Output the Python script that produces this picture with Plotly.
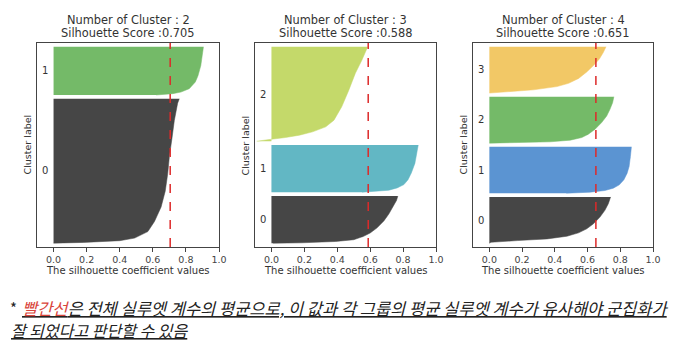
import plotly.graph_objects as go

# ---------------- data ----------------
n_clusters_list = [2, 3, 4]
silhouette_scores = [0.705, 0.588, 0.651]

sizes_k2 = [375, 125]
sizes_k3 = [125, 125, 250]
sizes_k4 = [125, 125, 125, 125]

colors_k2 = ["#464646", "#74ba68"]
colors_k3 = ["#464646", "#62b7c4", "#c4d96a"]
colors_k4 = ["#464646", "#5b94d2", "#74ba68", "#f2c866"]

# sorted silhouette profile of each cluster: rank position (0 = lowest, 1 = highest) and value
k2_c0_rank = [0.0, 0.005, 0.017, 0.035, 0.08, 0.15, 0.25, 0.36, 0.48, 0.60, 0.72, 0.85, 0.97, 1.0]
k2_c0_value = [0.0, 0.18, 0.40, 0.49, 0.57, 0.61, 0.65, 0.675, 0.69, 0.70, 0.715, 0.73, 0.75, 0.76]
k2_c1_rank = [0.0, 0.006, 0.027, 0.06, 0.13, 0.27, 0.40, 0.61, 0.81, 1.0]
k2_c1_value = [0.62, 0.65, 0.72, 0.77, 0.82, 0.857, 0.873, 0.89, 0.898, 0.906]

k3_c0_rank = [0.0, 0.009, 0.037, 0.074, 0.146, 0.217, 0.326, 0.472, 0.617, 0.761, 0.907, 1.0]
k3_c0_value = [0.01, 0.185, 0.39, 0.50, 0.56, 0.60, 0.642, 0.683, 0.713, 0.738, 0.76, 0.768]
k3_c1_rank = [0.0, 0.008, 0.042, 0.092, 0.161, 0.266, 0.407, 0.616, 0.826, 1.0]
k3_c1_value = [0.55, 0.59, 0.713, 0.764, 0.805, 0.83, 0.85, 0.872, 0.884, 0.892]
k3_c2_rank = [0.0, 0.011, 0.021, 0.039, 0.064, 0.099, 0.152, 0.223, 0.365, 0.54, 0.72, 0.86, 1.0]
k3_c2_value = [-0.09, -0.05, 0.0, 0.085, 0.17, 0.25, 0.33, 0.38, 0.427, 0.47, 0.51, 0.55, 0.585]

k4_c0_rank = [0.0, 0.022, 0.058, 0.094, 0.152, 0.225, 0.312, 0.42, 0.565, 0.71, 0.855, 1.0]
k4_c0_value = [0.0, 0.01, 0.17, 0.352, 0.474, 0.545, 0.595, 0.636, 0.676, 0.706, 0.727, 0.741]
k4_c1_rank = [0.0, 0.022, 0.058, 0.108, 0.18, 0.288, 0.432, 0.576, 0.791, 1.0]
k4_c1_value = [0.47, 0.615, 0.706, 0.757, 0.794, 0.822, 0.842, 0.854, 0.862, 0.868]
k4_c2_rank = [0.0, 0.007, 0.029, 0.064, 0.121, 0.193, 0.30, 0.443, 0.586, 0.729, 0.871, 1.0]
k4_c2_value = [0.0, 0.17, 0.372, 0.494, 0.565, 0.605, 0.646, 0.686, 0.717, 0.737, 0.753, 0.761]
k4_c3_rank = [0.0, 0.021, 0.07, 0.14, 0.21, 0.315, 0.455, 0.594, 0.734, 0.874, 1.0]
k4_c3_value = [0.0, 0.07, 0.27, 0.413, 0.484, 0.545, 0.595, 0.636, 0.672, 0.696, 0.713]

x_tick_values = [0.0, 0.2, 0.4, 0.6, 0.8, 1.0]
x_tick_labels = ["0.0", "0.2", "0.4", "0.6", "0.8", "1.0"]

title_line1 = "Number of Cluster : {}"
title_line2 = "Silhouette Score :{:.3f}"
x_title = "The silhouette coefficient values"
y_title = "Cluster label"

caption_star = "*"
caption_red = "빨간선"
caption_line1 = "은 전체 실루엣 계수의 평균으로, 이 값과 각 그룹의 평균 실루엣 계수가 유사해야 군집화가"
caption_line2 = "잘 되었다고 판단할 수 있음"

panels = [
    (sizes_k2, colors_k2, [(k2_c0_rank, k2_c0_value), (k2_c1_rank, k2_c1_value)]),
    (sizes_k3, colors_k3, [(k3_c0_rank, k3_c0_value), (k3_c1_rank, k3_c1_value),
                           (k3_c2_rank, k3_c2_value)]),
    (sizes_k4, colors_k4, [(k4_c0_rank, k4_c0_value), (k4_c1_rank, k4_c1_value),
                           (k4_c2_rank, k4_c2_value), (k4_c3_rank, k4_c3_value)]),
]

# ---------------- layout geometry ----------------
W, H = 678, 362
x_domains_px = [(37, 219), (255, 436), (473, 653)]
plot_top_px, plot_bottom_px = 43, 247
y_dom = [1 - plot_bottom_px / H, 1 - plot_top_px / H]
FONT = "DejaVu Sans"
TXT = "#333333"

fig = go.Figure()
layout = dict(
    width=W, height=H, margin=dict(l=0, r=0, t=0, b=0, autoexpand=False),
    paper_bgcolor="white", plot_bgcolor="white", showlegend=False,
    font=dict(family=FONT, color=TXT, size=10),
)
annotations = []
shapes = []

for p, (n_k, score, (sizes, cols, profiles)) in enumerate(zip(n_clusters_list, silhouette_scores, panels)):
    idx = "" if p == 0 else str(p + 1)
    xa, ya = "x" + idx, "y" + idx
    x0p, x1p = x_domains_px[p]
    dom = [x0p / W, x1p / W]
    y_max = sum(sizes) + (n_k + 1) * 10

    y_lower = 10
    for i, (rank, vals) in enumerate(profiles):
        size = sizes[i]
        ys = [y_lower + r * size for r in rank]
        fig.add_trace(go.Scatter(
            x=vals, y=ys, mode="lines", fill="tozerox",
            fillcolor=cols[i], line=dict(width=0.5, color=cols[i]),
            xaxis=xa, yaxis=ya, hoverinfo="skip",
        ))
        annotations.append(dict(
            x=-0.05, y=y_lower + 0.5 * size, xref=xa, yref=ya, text=str(i),
            xanchor="center", yanchor="middle",
            showarrow=False, font=dict(size=10, color=TXT, family=FONT),
        ))
        y_lower = y_lower + size + 10

    shapes.append(dict(
        type="line", xref=xa, yref=ya + " domain", x0=score, x1=score, y0=0, y1=1,
        line=dict(color="#dd2a2a", width=1.5, dash="dash"),
    ))

    layout["xaxis" + idx] = dict(
        domain=dom, anchor=ya, range=[-0.1, 1.0], automargin=False,
        tickvals=x_tick_values, ticktext=x_tick_labels,
        showline=True, mirror=True, linecolor="#444444", linewidth=1,
        ticks="outside", ticklen=3.5, tickcolor="#444444",
        showgrid=False, zeroline=False,
        tickfont=dict(size=9.5, color="#444444", family=FONT),
    )
    layout["yaxis" + idx] = dict(
        domain=y_dom, anchor=xa, range=[0, y_max], automargin=False,
        showline=True, mirror=True, linecolor="#444444", linewidth=1,
        showticklabels=False, ticks="", showgrid=False, zeroline=False,
    )

    cx = (dom[0] + dom[1]) / 2
    annotations.append(dict(
        x=cx, y=1 - 20 / H, xref="paper", yref="paper", xanchor="center", yanchor="middle",
        text=title_line1.format(n_k), showarrow=False,
        font=dict(size=11.4, color=TXT, family=FONT),
    ))
    annotations.append(dict(
        x=cx, y=1 - 33 / H, xref="paper", yref="paper", xanchor="center", yanchor="middle",
        text=title_line2.format(score), showarrow=False,
        font=dict(size=11.4, color=TXT, family=FONT),
    ))
    annotations.append(dict(
        x=cx, y=1 - 270 / H, xref="paper", yref="paper", xanchor="center", yanchor="middle",
        text=x_title, showarrow=False,
        font=dict(size=10, color=TXT, family=FONT),
    ))
    annotations.append(dict(
        x=dom[0], y=1 - 145 / H, xref="paper", yref="paper",
        xanchor="right", yanchor="middle", xshift=-3, textangle=-90,
        text=y_title, showarrow=False,
        font=dict(size=9.5, color=TXT, family=FONT),
    ))

CAP_FONT = "Noto Sans CJK KR"
annotations.append(dict(
    x=9 / W, y=1 - 307 / H, xref="paper", yref="paper", xanchor="left", yanchor="middle",
    text=caption_star, showarrow=False, borderpad=0,
    font=dict(size=15, color="#222222", family=CAP_FONT),
))
annotations.append(dict(
    x=21 / W, y=1 - 307.5 / H, xref="paper", yref="paper", xanchor="left", yanchor="middle",
    text="<i><u><span style='color:#d9453b'>" + caption_red + "</span>" + caption_line1 + "</u></i>",
    showarrow=False, align="left", borderpad=0,
    font=dict(size=16.5, color="#222222", family=CAP_FONT),
))
annotations.append(dict(
    x=10 / W, y=1 - 329.5 / H, xref="paper", yref="paper", xanchor="left", yanchor="middle",
    text="<i><u>" + caption_line2 + "</u></i>",
    showarrow=False, align="left", borderpad=0,
    font=dict(size=16, color="#222222", family=CAP_FONT),
))

layout["annotations"] = annotations
layout["shapes"] = shapes
fig.update_layout(**layout)
fig.write_html("out.html", config={"displayModeBar": False},
               post_script="document.body.style.margin='0';")
